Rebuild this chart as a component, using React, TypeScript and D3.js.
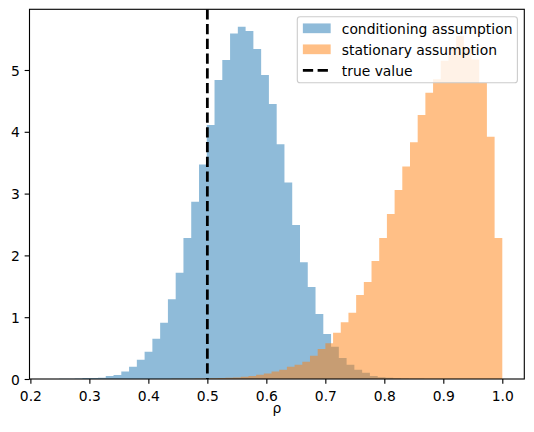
import React, { useEffect, useRef } from "react";
import * as d3 from "d3";

// histogram densities (density=True), 50 bins each
const conditioningStart = 0.2356;
const conditioningWidth = 0.01317;
const conditioningDensity = [
  0.002, 0.004, 0.006, 0.01, 0.016, 0.016, 0.02, 0.05, 0.065, 0.12,
  0.2, 0.31, 0.44, 0.65, 0.91, 1.29, 1.72, 2.28, 2.87, 3.47,
  4.11, 4.84, 5.16, 5.59, 5.7, 5.63, 5.34, 4.92, 4.45, 3.8,
  3.18, 2.49, 1.89, 1.49, 1.05, 0.73, 0.52, 0.34, 0.23, 0.15,
  0.1, 0.05, 0.03, 0.02, 0.012, 0.008, 0.005, 0.003, 0.002, 0.001,
];

const stationaryStart = 0.348;
const stationaryWidth = 0.01304;
const stationaryDensity = [
  0.0005, 0.0005, 0.001, 0.001, 0.0015, 0.002, 0.002, 0.003, 0.004, 0.006,
  0.008, 0.01, 0.012, 0.015, 0.02, 0.025, 0.035, 0.05, 0.07, 0.09,
  0.12, 0.15, 0.2, 0.23, 0.28, 0.375, 0.485, 0.58, 0.75, 0.92,
  1.07, 1.36, 1.57, 1.91, 2.28, 2.67, 3.06, 3.44, 3.83, 4.27,
  4.63, 4.85, 5.15, 5.35, 5.55, 5.35, 5.17, 4.79, 3.92, 2.28,
];

const trueValue = 0.5;
const xTicks = [0.2, 0.3, 0.4, 0.5, 0.6, 0.7, 0.8, 0.9, 1.0];
const yTicks = [0, 1, 2, 3, 4, 5];
const legendLabels = ["conditioning assumption", "stationary assumption", "true value"];

const BLUE = "#1f77b4";
const ORANGE = "#ff7f0e";
const FONT = "'DejaVu Sans', sans-serif";
const FS = 13.89;

export default function App() {
  const svgRef = useRef<SVGSVGElement>(null);

  useEffect(() => {
    const width = 534;
    const height = 432;
    const left = 29.5, right = 524.3, top = 9.3, bottom = 379;

    const svg = d3.select(svgRef.current);
    svg.selectAll("*").remove();
    svg.attr("width", width).attr("height", height);

    const x = d3.scaleLinear().domain([0.1985, 1.0373]).range([left, right]);
    const y = d3.scaleLinear().domain([0, 5.982]).range([bottom, top]);

    svg.append("defs").append("clipPath").attr("id", "plot-clip")
      .append("rect")
      .attr("x", left).attr("y", top)
      .attr("width", right - left).attr("height", bottom - top);

    const plot = svg.append("g").attr("clip-path", "url(#plot-clip)");

    // each histogram drawn as one stepped outline so the bars have no seams
    const histPath = (start: number, w: number, vals: number[]) => {
      const pts: [number, number][] = vals.map((v, i) => [start + i * w, v]);
      pts.push([start + vals.length * w, vals[vals.length - 1]]);
      return d3.area<[number, number]>()
        .x(d => x(d[0]))
        .y0(y(0))
        .y1(d => y(d[1]))
        .curve(d3.curveStepAfter)(pts);
    };

    plot.append("path")
      .attr("d", histPath(conditioningStart, conditioningWidth, conditioningDensity))
      .attr("fill", BLUE).attr("fill-opacity", 0.5);

    plot.append("path")
      .attr("d", histPath(stationaryStart, stationaryWidth, stationaryDensity))
      .attr("fill", ORANGE).attr("fill-opacity", 0.5);

    // true value marker
    plot.append("line")
      .attr("x1", x(trueValue)).attr("x2", x(trueValue))
      .attr("y1", top).attr("y2", bottom)
      .attr("stroke", "black").attr("stroke-width", 2.78)
      .attr("stroke-dasharray", "10.3,4.45");

    // axes
    const xAxis = svg.append("g")
      .attr("transform", `translate(0,${bottom})`)
      .call(d3.axisBottom(x).tickValues(xTicks).tickFormat(d3.format(".1f"))
        .tickSize(4.86).tickPadding(4.86).tickSizeOuter(0));
    xAxis.select(".domain").remove();
    xAxis.selectAll("line").attr("stroke", "black").attr("stroke-width", 1.11);
    xAxis.selectAll("text").attr("dy", "0.86em")
      .attr("font-family", FONT).attr("font-size", FS).attr("fill", "black");

    const yAxis = svg.append("g")
      .attr("transform", `translate(${left},0)`)
      .call(d3.axisLeft(y).tickValues(yTicks).tickFormat(d3.format("d"))
        .tickSize(4.86).tickPadding(4.86).tickSizeOuter(0));
    yAxis.select(".domain").remove();
    yAxis.selectAll("line").attr("stroke", "black").attr("stroke-width", 1.11);
    yAxis.selectAll("text").attr("dy", "0.36em")
      .attr("font-family", FONT).attr("font-size", FS).attr("fill", "black");

    // spines
    svg.append("rect")
      .attr("x", left).attr("y", top)
      .attr("width", right - left).attr("height", bottom - top)
      .attr("fill", "none").attr("stroke", "black").attr("stroke-width", 1.11);

    svg.append("text")
      .attr("x", (left + right) / 2).attr("y", 413)
      .attr("text-anchor", "middle")
      .attr("font-family", FONT).attr("font-size", FS)
      .text("ρ");

    // legend, upper right
    const lg = svg.append("g");
    const lx = 297.3, ly = 16.7, lw = 220.1, lh = 66;
    lg.append("rect")
      .attr("x", lx).attr("y", ly).attr("width", lw).attr("height", lh)
      .attr("rx", 2.8).attr("ry", 2.8)
      .attr("fill", "white").attr("fill-opacity", 0.8)
      .attr("stroke", "#cccccc").attr("stroke-width", 1.11);

    const rowY = [28.3, 49.3, 70.3];
    const hx = lx + 5.56;
    const hw = 27.8;
    [BLUE, ORANGE].forEach((c, i) => {
      lg.append("rect")
        .attr("x", hx).attr("y", rowY[i] - 4.86)
        .attr("width", hw).attr("height", 9.72)
        .attr("fill", c).attr("fill-opacity", 0.5);
    });
    lg.append("line")
      .attr("x1", hx).attr("x2", hx + hw)
      .attr("y1", rowY[2]).attr("y2", rowY[2])
      .attr("stroke", "black").attr("stroke-width", 2.78)
      .attr("stroke-dasharray", "10.3,4.45");

    legendLabels.forEach((t, i) => {
      lg.append("text")
        .attr("x", hx + hw + 11.1).attr("y", rowY[i] + 5.3)
        .attr("font-family", FONT).attr("font-size", FS)
        .attr("fill", "black")
        .text(t);
    });
  }, []);

  return <svg ref={svgRef} style={{ position: "absolute", left: 0, top: 0 }}></svg>;
}
